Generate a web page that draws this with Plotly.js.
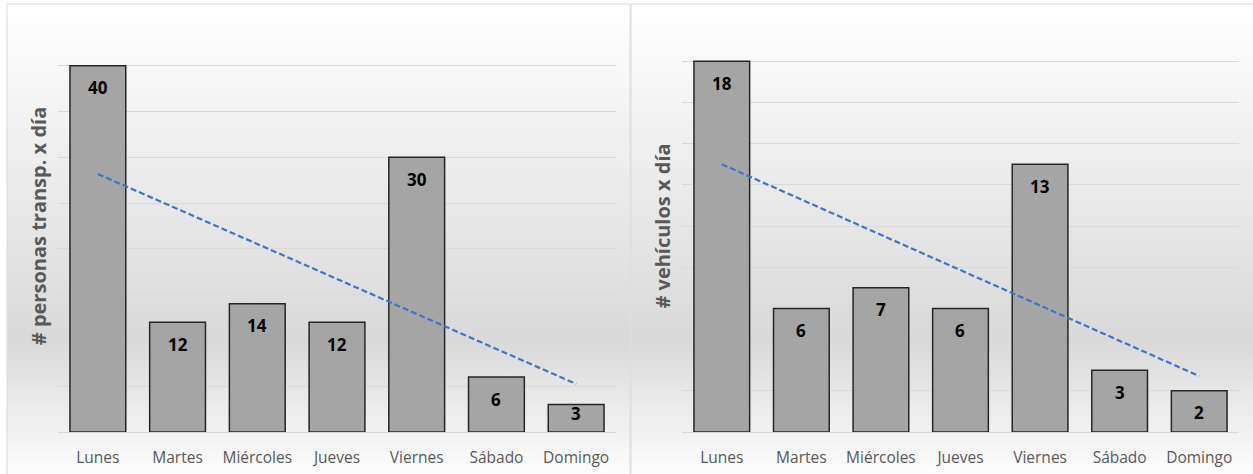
<!DOCTYPE html>
<html>
<head>
<meta charset="utf-8">
<script src="https://cdn.plot.ly/plotly-3.0.1.min.js"></script>
<style>
  html, body { margin: 0; padding: 0; background: #ffffff; }
  #chart { width: 1253px; height: 474px; }
</style>
</head>
<body>
<div id="chart"></div>
<script>
// ---- Data ----
const days = ['Lunes', 'Martes', 'Miércoles', 'Jueves', 'Viernes', 'Sábado', 'Domingo'];
const personas = [40, 12, 14, 12, 30, 6, 3];
const vehiculos = [18, 6, 7, 6, 13, 3, 2];
const titlePersonas = '# personas transp. x día';
const titleVehiculos = '# vehículos x día';

// ---- Layout constants ----
const W = 1253, H = 474;
const yDom = [0.0886, 0.9578];
const x1Dom = [58 / W, 616 / W];
const x2Dom = [682 / W, 1239 / W];
const y1Max = 45, y2Max = 20;

// linear trendline (least squares over category index), as Excel draws it
function trend(vals) {
  const n = vals.length;
  const xs = vals.map((_, i) => i + 1);
  const mx = xs.reduce((a, b) => a + b, 0) / n;
  const my = vals.reduce((a, b) => a + b, 0) / n;
  let sxy = 0, sxx = 0;
  for (let i = 0; i < n; i++) { sxy += (xs[i] - mx) * (vals[i] - my); sxx += (xs[i] - mx) ** 2; }
  const b = sxy / sxx, a = my - b * mx;
  return xs.map(x => a + b * x);
}

const barStyle = { color: '#A5A5A5', line: { color: '#262626', width: 1.5 } };
const trendStyle = { color: '#4472C4', width: 2.2, dash: '6px,3px' };

const traces = [
  { type: 'bar', x: days, y: personas, xaxis: 'x', yaxis: 'y', marker: barStyle, hoverinfo: 'x+y' },
  { type: 'scatter', mode: 'lines', x: days, y: trend(personas), xaxis: 'x', yaxis: 'y', line: trendStyle, hoverinfo: 'skip' },
  { type: 'bar', x: days, y: vehiculos, xaxis: 'x2', yaxis: 'y2', marker: barStyle, hoverinfo: 'x+y' },
  { type: 'scatter', mode: 'lines', x: days, y: trend(vehiculos), xaxis: 'x2', yaxis: 'y2', line: trendStyle, hoverinfo: 'skip' }
];

// data labels (inside end)
const plotH = (yDom[1] - yDom[0]) * H;
function labels(vals, xref, yref, ymax) {
  const ppu = plotH / ymax;
  return vals.map((v, i) => ({
    x: days[i], y: v, xref: xref, yref: yref,
    text: '<b>' + v + '</b>', showarrow: false,
    yanchor: 'middle', yshift: -Math.min(22, v * ppu - 18),
    font: { family: 'Open Sans, sans-serif', size: 17, color: '#000000' }
  }));
}

const gradSvg = "<svg xmlns='http://www.w3.org/2000/svg' width='100' height='100' viewBox='0 0 100 100' preserveAspectRatio='none'>" +
  "<defs><linearGradient id='g' x1='0' y1='0' x2='0' y2='1'>" +
  "<stop offset='0' stop-color='#ffffff'/><stop offset='0.70' stop-color='#d9d9d9'/><stop offset='1' stop-color='#ffffff'/>" +
  "</linearGradient></defs><rect width='100' height='100' fill='url(#g)'/></svg>";
const gradSrc = 'data:image/svg+xml;charset=utf-8,' + encodeURIComponent(gradSvg);

const panelTop = 1 - 4 / H;
const panels = [[7 / W, 630 / W], [631 / W, 1.01]];

const axisX = (dom, anchor) => ({
  domain: dom, anchor: anchor, type: 'category', range: [-0.5, 6.5],
  showgrid: false, zeroline: false, showline: false, fixedrange: true,
  ticks: 'outside', ticklen: 11, tickcolor: 'rgba(0,0,0,0)',
  tickfont: { family: 'Open Sans, sans-serif', size: 15.5, color: '#595959' }
});
const axisY = (anchor, ymax, dtick, title) => ({
  domain: yDom, anchor: anchor, range: [0, ymax], dtick: dtick,
  showticklabels: false, ticks: '', showgrid: true, gridcolor: '#D9D9D9', gridwidth: 1,
  zeroline: true, zerolinecolor: '#D9D9D9', zerolinewidth: 1, showline: false, fixedrange: true,
  title: { text: '<b>' + title + '</b>', standoff: 4,
           font: { family: 'Open Sans, sans-serif', size: 20, color: '#595959' } }
});

const layout = {
  width: W, height: H,
  margin: { l: 0, r: 0, t: 0, b: 0, autoexpand: false },
  paper_bgcolor: '#ffffff', plot_bgcolor: 'rgba(0,0,0,0)',
  showlegend: false, bargap: 0.3,
  xaxis: axisX(x1Dom, 'y'),
  yaxis: axisY('x', y1Max, 5, titlePersonas),
  xaxis2: axisX(x2Dom, 'y2'),
  yaxis2: axisY('x2', y2Max, 2, titleVehiculos),
  images: panels.map(p => ({
    source: gradSrc, xref: 'paper', yref: 'paper',
    x: p[0], y: panelTop, sizex: p[1] - p[0], sizey: panelTop + 0.02,
    xanchor: 'left', yanchor: 'top', sizing: 'stretch', layer: 'below'
  })),
  shapes: panels.map(p => ({
    type: 'rect', xref: 'paper', yref: 'paper', layer: 'below',
    x0: p[0], x1: p[1], y0: -0.02, y1: panelTop,
    line: { color: '#D9D9D9', width: 1 }, fillcolor: 'rgba(0,0,0,0)'
  })),
  annotations: labels(personas, 'x', 'y', y1Max).concat(labels(vehiculos, 'x2', 'y2', y2Max))
};

Plotly.newPlot('chart', traces, layout, { displayModeBar: false, staticPlot: true });
</script>
</body>
</html>
